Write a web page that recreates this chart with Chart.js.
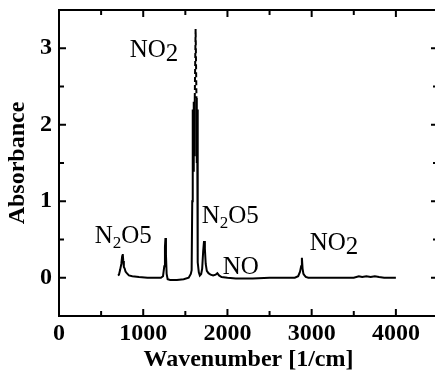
<!DOCTYPE html>
<html>
<head>
<meta charset="utf-8">
<script src="https://cdn.jsdelivr.net/npm/chart.js@4/dist/chart.umd.min.js"></script>
<style>
  html, body { margin: 0; padding: 0; background: #fff; overflow: hidden; }
</style>
</head>
<body>
<canvas id="spectrum" width="440" height="375"></canvas>
<script>
'use strict';

// spectrum (wavenumber in 1/cm, absorbance)
const wavenumbers = [700, 712, 725, 740, 750, 757, 763, 770, 780, 790, 805, 830, 870, 950, 1050, 1150, 1210, 1235, 1250, 1258, 1264, 1270, 1278, 1290, 1320, 1400, 1480, 1540, 1565, 1575, 1582, 1588, 1594, 1600, 1606, 1612, 1622, 1632, 1636, 1640, 1644, 1650, 1660, 1672, 1688, 1700, 1712, 1722, 1732, 1742, 1755, 1775, 1800, 1830, 1860, 1880, 1900, 1930, 2000, 2100, 2300, 2500, 2700, 2800, 2840, 2862, 2875, 2884, 2892, 2902, 2915, 2930, 2960, 3100, 3300, 3500, 3560, 3600, 3650, 3700, 3750, 3800, 3860, 4000];
const absorbance = [0.03, 0.04, 0.10, 0.18, 0.28, 0.31, 0.22, 0.14, 0.12, 0.08, 0.06, 0.03, 0.02, 0.01, 0.0, 0.0, 0.0, 0.02, 0.15, 0.40, 0.52, 0.30, 0.05, -0.02, -0.03, -0.03, -0.02, 0.0, 0.05, 0.1, 1.0, 2.2, 1.4, 2.3, 1.6, 2.35, 3.25, 2.35, 1.5, 2.2, 1.0, 0.2, 0.07, 0.03, 0.05, 0.12, 0.35, 0.48, 0.38, 0.18, 0.09, 0.06, 0.04, 0.03, 0.04, 0.06, 0.03, 0.01, 0.0, -0.01, -0.01, 0.0, 0.0, 0.0, 0.02, 0.08, 0.15, 0.26, 0.12, 0.05, 0.03, 0.01, 0.0, 0.0, 0.0, 0.0, 0.02, 0.01, 0.02, 0.01, 0.02, 0.01, 0.0, 0.0];

const xTicks = [0, 1000, 2000, 3000, 4000];
const xMinor = [500, 1500, 2500, 3500];
const yTicks = [0, 1, 2, 3];
const yMinor = [0.5, 1.5, 2.5];

// peak labels: text pieces, 'sub' = smaller & lowered, 'low' = same size & lowered
const labels = [
  { x: 840, y: 2.88, parts: [['NO', ''], ['2', 'low']] },
  { x: 424, y: 0.455, parts: [['N', ''], ['2', 'sub'], ['O5', '']] },
  { x: 1695, y: 0.72, parts: [['N', ''], ['2', 'sub'], ['O5', '']] },
  { x: 1944, y: 0.05, parts: [['NO', '']] },
  { x: 2977, y: 0.36, parts: [['NO', ''], ['2', 'low']] }
];

const serif = "'Liberation Serif', 'Times New Roman', serif";

const frameAndTicks = {
  id: 'frameAndTicks',
  afterDraw(chart) {
    const { ctx, chartArea: a, scales: { x, y } } = chart;
    ctx.save();
    ctx.strokeStyle = '#000';
    ctx.lineWidth = 2;
    ctx.strokeRect(a.left, a.top, a.right - a.left, a.bottom - a.top);

    function seg(x1, y1, x2, y2) {
      ctx.beginPath();
      ctx.moveTo(x1, y1);
      ctx.lineTo(x2, y2);
      ctx.stroke();
    }
    xTicks.concat(xMinor).forEach(v => {
      const len = xTicks.includes(v) ? 7 : 5;
      const px = x.getPixelForValue(v);
      seg(px, a.bottom, px, a.bottom - len);
      seg(px, a.top, px, a.top + len);
    });
    yTicks.concat(yMinor).forEach(v => {
      const len = yTicks.includes(v) ? 7 : 5;
      const py = y.getPixelForValue(v);
      seg(a.left, py, a.left + len, py);
      seg(a.right, py, a.right - len, py);
    });

    // peak labels
    ctx.fillStyle = '#000';
    ctx.textBaseline = 'alphabetic';
    ctx.textAlign = 'left';
    labels.forEach(l => {
      let px = x.getPixelForValue(l.x);
      const py = y.getPixelForValue(l.y);
      l.parts.forEach(p => {
        const size = p[1] === 'sub' ? 17 : 25;
        const dy = p[1] === 'sub' ? 5 : (p[1] === 'low' ? 4 : 0);
        ctx.font = size + 'px ' + serif;
        ctx.fillText(p[0], px, py + dy);
        px += ctx.measureText(p[0]).width;
      });
    });
    ctx.restore();
  }
};

function noPad(s) {
  s.paddingTop = 0;
  s.paddingBottom = 0;
  s.paddingLeft = 0;
  s.paddingRight = 0;
}

const ctx = document.getElementById('spectrum');

let spectrumChart = new Chart(ctx, {
  type: 'line',
  data: {
    datasets: [{
      data: wavenumbers.map((w, i) => ({ x: w, y: absorbance[i] })),
      borderColor: '#000',
      borderWidth: 2,
      pointRadius: 0,
      tension: 0,
      segment: {
        borderDash: c => (c.p0.parsed.y > 2.3 && c.p1.parsed.y > 2.3) || c.p1.parsed.y > 3 || c.p0.parsed.y > 3 ? [5, 3] : undefined
      }
    }]
  },
  options: {
    responsive: false,
    animation: false,
    devicePixelRatio: 1,
    layout: { padding: { top: 10, right: 2, left: 0, bottom: 0 } },
    plugins: { legend: { display: false }, tooltip: { enabled: false } },
    scales: {
      x: {
        type: 'linear',
        min: 0,
        max: 4500,
        grid: { display: false, drawTicks: false },
        border: { display: false },
        afterBuildTicks: s => { s.ticks = xTicks.map(v => ({ value: v })); },
        afterFit: s => { s.height = 59; noPad(s); },
        ticks: { color: '#000', padding: 3, maxRotation: 0, callback: v => String(v), font: { family: serif, size: 24, weight: 'bold' } },
        title: { display: true, text: 'Wavenumber [1/cm]', color: '#000', padding: { top: 0, bottom: 1 }, font: { family: serif, size: 24, weight: 'bold' } }
      },
      y: {
        min: -0.5,
        max: 3.5,
        grid: { display: false, drawTicks: false },
        border: { display: false },
        afterBuildTicks: s => { s.ticks = yTicks.map(v => ({ value: v })); },
        afterFit: s => { s.width = 59; noPad(s); },
        ticks: { color: '#000', padding: 7, callback: v => String(v), font: { family: serif, size: 24, weight: 'bold' } },
        title: { display: true, text: 'Absorbance', color: '#000', padding: { top: 3, bottom: 0 }, font: { family: serif, size: 24, weight: 'bold' } }
      }
    }
  },
  plugins: [frameAndTicks]
});
</script>
</body>
</html>
